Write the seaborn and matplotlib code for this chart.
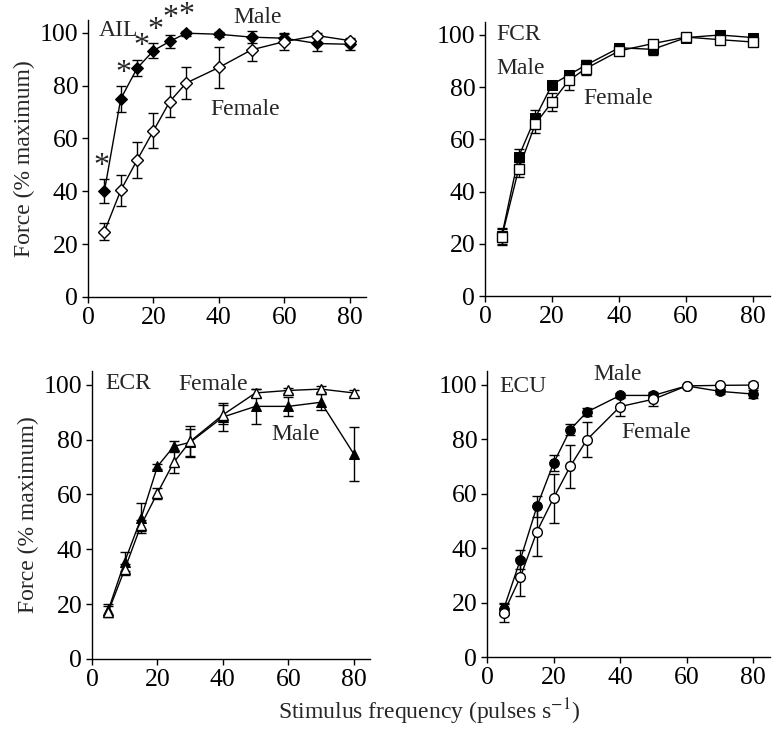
import numpy as np
import pandas as pd
import matplotlib
matplotlib.use('Agg')
import matplotlib.pyplot as plt
import seaborn as sns

freq = [5, 10, 15, 20, 25, 30, 40, 50, 60, 70, 80]

# AIL
ail_male = [40, 75, 86.6, 93.3, 96.8, 99.9, 99.5, 98.4, 98, 96, 95.7]
ail_male_err = [4.5, 5, 3, 2.7, 2.5, 1, 1, 2.3, 2, 2.7, 2]
ail_female = [24.7, 40.3, 51.8, 62.9, 74, 81, 86.9, 93.6, 96.7, 99, 97.1]
ail_female_err = [3.3, 5.8, 6.7, 6.7, 6, 5.9, 7.6, 4.3, 3, 1, 1]
ail_stars_x = [4.2, 10.8, 16.3, 20.5, 25.3, 30.1]
ail_stars_y = [49.5, 84.5, 95, 101, 105.5, 106.5]

# FCR
fcr_male = [23, 53.3, 68.3, 81, 84.7, 88.4, 95.1, 94.5, 99, 100, 99]
fcr_male_err = [3, 3, 3, 1.5, 1.5, 2, 1.5, 2.3, 1, 1, 1]
fcr_female = [22.6, 48.5, 65.9, 74.3, 82.6, 87.1, 93.9, 96.7, 99.2, 98.2, 97.3]
fcr_female_err = [3, 3, 3.5, 3.5, 3.5, 2.5, 1.5, 1.5, 1, 1, 1]

# ECR
ecr_male = [17.9, 35.5, 51.3, 70.2, 77.5, 79, 88.2, 92.1, 92.1, 93.6, 74.8]
ecr_male_err = [2, 3.5, 5.5, 1, 2, 5, 5, 6.5, 3.5, 3, 9.8]
ecr_female = [17.3, 32.7, 48.8, 60.5, 71.7, 79.3, 89, 97, 97.9, 98.4, 97]
ecr_female_err = [2, 2, 2, 2, 4, 5.5, 3.5, 1.5, 1, 1, 1]

# ECU
ecu_male = [17.6, 35.7, 55.3, 71.2, 83.5, 90, 96.1, 96.1, 99.6, 97.6, 96.6]
ecu_male_err = [2, 3.5, 4, 3, 2, 1.5, 1, 1, 0.5, 1, 1.5]
ecu_female = [16.2, 29.3, 46.1, 58.4, 70, 79.8, 92, 94.7, 99.6, 99.8, 99.9]
ecu_female_err = [3.5, 7, 9, 9, 8, 6.5, 3.5, 2.5, 0.5, 0.5, 1]

panels = [
    ('AIL', 'D', 6, ail_male, ail_male_err, ail_female, ail_female_err,
     [('AIL', 3.2, 101), ('Male', 44.5, 106), ('Female', 37.3, 71)]),
    ('FCR', 's', 7, fcr_male, fcr_male_err, fcr_female, fcr_female_err,
     [('FCR', 3.5, 100), ('Male', 3.5, 87), ('Female', 29.3, 75.5)]),
    ('ECR', '^', 7, ecr_male, ecr_male_err, ecr_female, ecr_female_err,
     [('ECR', 4.1, 100.5), ('Female', 26.4, 100), ('Male', 54.9, 82)]),
    ('ECU', 'o', 7, ecu_male, ecu_male_err, ecu_female, ecu_female_err,
     [('ECU', 3.8, 99.5), ('Male', 32.1, 103.7), ('Female', 40.4, 82.5)]),
]

positions = [
    [0.1127, 0.594, 0.356, 0.379],
    [0.621, 0.595, 0.365, 0.375],
    [0.1178, 0.0985, 0.356, 0.394],
    [0.6236, 0.1012, 0.362, 0.391],
]

sns.set_style('ticks')
plt.rcParams['font.family'] = ['Liberation Serif', 'DejaVu Serif']
plt.rcParams['mathtext.fontset'] = 'stix'
plt.rcParams['xtick.direction'] = 'out'
plt.rcParams['ytick.direction'] = 'out'

fig = plt.figure(figsize=(7.81, 7.31), dpi=100)
fs = 17

for i, (name, mk, ms, m, me, f, fe, labels) in enumerate(panels):
    ax = fig.add_axes(positions[i])
    df = pd.DataFrame({
        'freq': freq * 2,
        'force': m + f,
        'sex': ['Male'] * len(freq) + ['Female'] * len(freq),
    })
    ax.errorbar(freq, m, yerr=me, fmt='none', ecolor='black', elinewidth=1,
                capsize=3.5, capthick=1, zorder=2)
    ax.errorbar(freq, f, yerr=fe, fmt='none', ecolor='black', elinewidth=1,
                capsize=3.5, capthick=1, zorder=2)
    sns.lineplot(data=df[df.sex == 'Male'], x='freq', y='force', ax=ax,
                 color='black', lw=1, marker=mk, markersize=ms,
                 markerfacecolor='black', markeredgecolor='black', zorder=3)
    sns.lineplot(data=df[df.sex == 'Female'], x='freq', y='force', ax=ax,
                 color='black', lw=1, marker=mk, markersize=ms,
                 markerfacecolor='white', markeredgecolor='black',
                 markeredgewidth=1, zorder=4)
    ax.set_xlim(0, 85)
    ax.set_ylim(0, 105)
    ax.set_xticks([0, 20, 40, 60, 80])
    ax.set_yticks([0, 20, 40, 60, 80, 100])
    ax.tick_params(labelsize=18.5, length=4, width=1, colors='black', pad=3)
    for s in ['left', 'bottom']:
        ax.spines[s].set_linewidth(1)
        ax.spines[s].set_color('black')
    sns.despine(ax=ax)
    ax.set_xlabel('')
    if i in (0, 2):
        ax.set_ylabel('Force (% maximum)', fontsize=fs, labelpad=3)
    else:
        ax.set_ylabel('')
    for txt, tx, ty in labels:
        ax.text(tx, ty, txt, fontsize=fs, va='center', ha='left')
    if name == 'AIL':
        for sx, sy in zip(ail_stars_x, ail_stars_y):
            ax.text(sx, sy, '*', fontsize=23, ha='center', va='center',
                    clip_on=False)

fig.text(0.549, 0.026, 'Stimulus frequency (pulses s$^{-1}$)', fontsize=fs,
         ha='center', va='center')

fig.savefig('out.png', dpi=100)
